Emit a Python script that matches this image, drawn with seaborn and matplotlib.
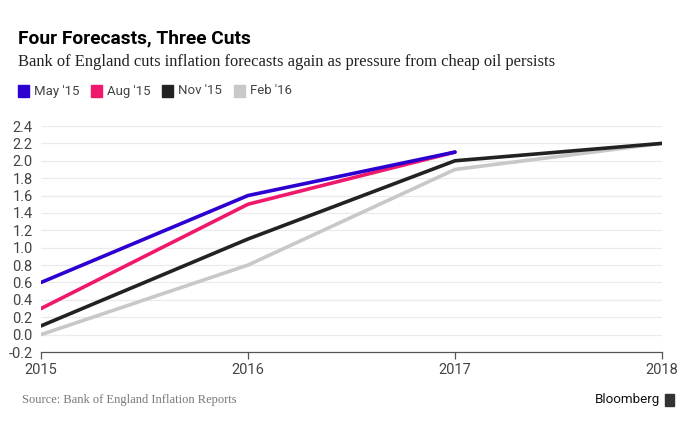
import matplotlib
matplotlib.use("Agg")
import matplotlib.pyplot as plt
import seaborn as sns
import pandas as pd
from matplotlib.patches import Rectangle

years = [2015, 2016, 2017, 2018]
may15 = [0.6, 1.6, 2.1]
aug15 = [0.3, 1.5, 2.1]
nov15 = [0.1, 1.1, 2.0, 2.2]
feb16 = [0.0, 0.8, 1.9, 2.2]
series_names = ["May '15", "Aug '15", "Nov '15", "Feb '16"]
series_vals = [may15, aug15, nov15, feb16]
colors = ["#2b00d1", "#f0186b", "#222222", "#c8c8c8"]
yticks = [-0.2, 0.0, 0.2, 0.4, 0.6, 0.8, 1.0, 1.2, 1.4, 1.6, 1.8, 2.0, 2.2, 2.4]

rows = []
for name, vals in zip(series_names, series_vals):
    for yr, v in zip(years, vals):
        rows.append({"year": yr, "value": v, "series": name})
df = pd.DataFrame(rows)

sns.set_theme(style="white")
plt.rcParams["font.family"] = ["Roboto", "DejaVu Sans"]

W, H = 690, 430
fig = plt.figure(figsize=(6.9, 4.3), dpi=100)
ax = fig.add_axes([41/W, 1-352/H, (662-41)/W, (352-126)/H])

order = series_names[::-1]
sns.lineplot(data=df, x="year", y="value", hue="series", hue_order=order,
             palette=dict(zip(series_names, colors)), linewidth=2.6,
             ax=ax, legend=False, sort=False)

ax.set_xlim(2015, 2018)
ax.set_ylim(-0.2, 2.4)
ax.set_yticks(yticks)
ax.set_yticklabels([f"{t:.1f}" for t in yticks])
ax.set_xticks(years)
ax.set_xticklabels([str(y) for y in years])
ax.set_xlabel("")
ax.set_ylabel("")
for y in yticks[1:]:
    ax.axhline(y, color="#ebebeb", lw=0.9, zorder=0)
for s in ["top", "right", "left"]:
    ax.spines[s].set_visible(False)
ax.spines["bottom"].set_color("#555555")
ax.spines["bottom"].set_linewidth(0.9)
ax.tick_params(axis="x", length=5, width=0.9, color="#555555", labelsize=10.5,
               labelcolor="#444444", pad=3, bottom=True)
ax.tick_params(axis="y", length=0, labelsize=10.5, labelcolor="#444444", pad=6)

renderer = fig.canvas.get_renderer()


def fit_text(x0, x1, yc, s, lo=1.0, hi=100.0, **kw):
    t = fig.text(x0/W, 1-yc/H, s, va="center", ha="left", **kw)
    fs = t.get_fontsize()
    for _ in range(4):
        w = t.get_window_extent(renderer).width
        fs = fs * (x1 - x0) / w
        t.set_fontsize(min(max(fs, lo), hi))
    return t


fit_text(18, 250, 38, "Four Forecasts, Three Cuts", fontsize=15,
         fontweight="bold", color="#000000")
fit_text(18, 557, 62, "Bank of England cuts inflation forecasts again as pressure from cheap oil persists",
         fontsize=12, family=["Liberation Serif", "DejaVu Serif"], color="#222222")

sq = [18, 91, 162, 234]
tx = [(34, 71), (107, 142), (178, 213), (250, 285)]
for x0, (a, b), name, c in zip(sq, tx, series_names, colors):
    fig.patches.append(Rectangle((x0/W, 1-97/H), 11/W, 12/H,
                                 transform=fig.transFigure, color=c))
    fit_text(a, b, 91, name, lo=9.5, hi=11, fontsize=10, color="#444444")

fit_text(22, 237, 400, "Source: Bank of England Inflation Reports", fontsize=10,
         family=["Liberation Serif", "DejaVu Serif"], color="#777777")
fit_text(595, 660, 400, "Bloomberg", fontsize=11, color="#111111")
fig.patches.append(Rectangle((665/W, 1-406/H), 9/W, 12/H,
                             transform=fig.transFigure, color="#333333"))

fig.savefig("out.png", dpi=100, facecolor="white")
